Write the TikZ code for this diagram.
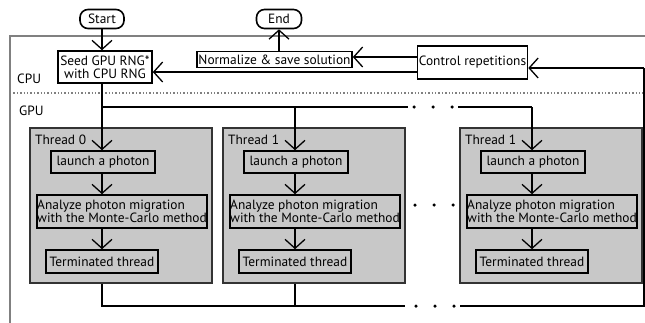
\documentclass[tikz,border=0pt]{standalone}
\usepackage{fontspec}
\setmainfont{PT Sans}
\usetikzlibrary{arrows.meta,calc}
\definecolor{tfill}{RGB}{200,200,200}
\definecolor{frame}{RGB}{128,128,128}
\tikzset{
  arr/.style={-{Straight Barb[length=9pt,width=20pt,line width=1.3pt]}, line width=1.3pt},
  ln/.style={line width=1.3pt},
  box/.style={draw, line width=1.6pt, inner sep=0pt, font=\fontsize{13.4}{14}\selectfont},
  term/.style={box, rounded corners=8pt},
  thread/.style={draw=black!80, fill=tfill, line width=1.3pt, inner sep=0pt},
  lbl/.style={inner sep=0pt, anchor=west, font=\fontsize{13.4}{14}\selectfont},
  dot/.style={fill=black, circle, inner sep=0pt, minimum size=3.5pt}
}
\begin{document}
\begin{tikzpicture}[x=1pt,y=-1pt]
\useasboundingbox (0,0) rectangle (645,322);
% frame
\draw[frame, line width=2pt] (646,36) -- (10,36) -- (10,323);
\draw[frame, line width=1.4pt, dotted] (10,93) -- (646,93);
\node[lbl] (cpu) at (17,79) {CPU};
\node[lbl] (gpu) at (19,111) {GPU};
% CPU nodes
\node[term, minimum width=44pt, minimum height=19pt] (start) at (102,19) {Start};
\node[term, minimum width=45pt, minimum height=19pt] (end) at (279,19) {End};
\node[box, minimum width=94pt, minimum height=32pt, align=center] (seed) at (105,67) {Seed GPU RNG*\\[-1pt]with CPU RNG};
\node[box, minimum width=155pt, minimum height=16pt] (norm) at (274.5,59.5) {Normalize \& save solution};
\node[box, minimum width=110pt, minimum height=33pt] (ctrl) at (472.5,62.5) {Control repetitions};
% threads
\foreach \i/\dx/\lab in {0/0/Thread 0, 1/193/Thread 1, 2/430/Thread 1}{
  \node[thread, minimum width=182pt, minimum height=155pt] (t\i) at (121+\dx,205.5) {};
  \node[lbl] (h\i) at (35+\dx,140) {\lab};
  \node[box, minimum width=104pt, minimum height=22pt] (l\i) at (103+\dx,162) {launch a photon};
  \node[box, minimum width=170pt, minimum height=33pt, align=left] (a\i) at (122+\dx,211.5) {Analyze photon migration\\[-1pt]with the Monte-Carlo method};
  \node[box, minimum width=112pt, minimum height=23pt] (e\i) at (102+\dx,261.5) {Terminated thread};
  \draw[arr] (l\i.south -| 102+\dx,0) -- (a\i.north -| 102+\dx,0);
  \draw[arr] (a\i.south -| 102+\dx,0) -- (e\i.north -| 102+\dx,0);
}
% top distribution
\coordinate (tl) at (102,107);
\coordinate (tm) at (295,107);
\coordinate (tr) at (532,107);
\draw[arr] (start.south) -- (start.south |- seed.north);
\draw[ln] (seed.south -| tl) -- (tl) -- (408,107);
\draw[ln] (458,107) -- (tr);
\draw[arr] (tl) -- (l0.north -| tl);
\draw[arr] (tm) -- (l1.north -| tm);
\draw[arr] (tr) -- (l2.north -| tr);
\foreach \x/\n in {414/d1,433/d2,452/d3}{ \node[dot] (top\n) at (\x,107) {}; }
% middle dots
\foreach \x/\n in {415/d1,434/d2,453/d3}{ \node[dot] (mid\n) at (\x,205) {}; }
% bottom collection
\coordinate (bl) at (102,306);
\coordinate (bm) at (295,306);
\coordinate (br) at (644,306);
\coordinate (rr) at (644,68);
\draw[ln] (t0.south -| bl) -- (bl) -- (405,306);
\draw[ln] (t1.south -| bm) -- (bm);
\draw[ln] (460,306) -- (br) -- (rr);
\foreach \x/\n in {416/d1,435/d2,454/d3}{ \node[dot] (bot\n) at (\x,306) {}; }
\draw[arr] (rr) -- (ctrl.east |- rr);
% CPU arrows
\draw[arr] ($(ctrl.west)+(0,-5.5)$) -- (norm.east |- 0,57);
\draw[arr] ($(ctrl.west)+(0,9.5)$) -- (seed.east |- 0,72);
\draw[arr] (end.south |- norm.north) -- (end.south);
\end{tikzpicture}
\end{document}
